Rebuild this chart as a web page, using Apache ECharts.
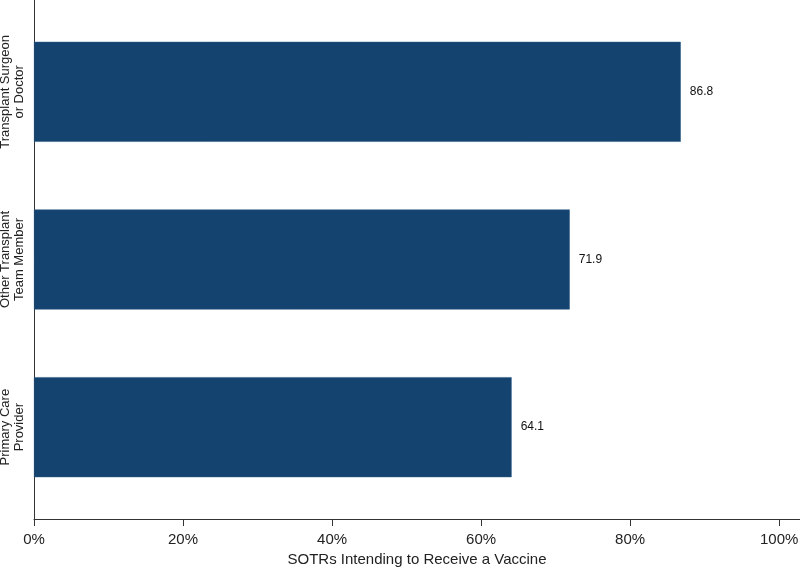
<!DOCTYPE html>
<html><head><meta charset="utf-8">
<script src="https://cdn.jsdelivr.net/npm/echarts@6/dist/echarts.min.js"></script>
<style>html,body{margin:0;padding:0;background:#fff}#c{width:800px;height:569px}</style>
</head><body><div id="c"></div>
<script>
const categories = ['Primary Care\nProvider', 'Other Transplant\nTeam Member', 'Transplant Surgeon\nor Doctor'];
const values = [64.1, 71.9, 86.8];
const tickValues = [0, 20, 40, 60, 80, 100];
const xTitle = 'SOTRs Intending to Receive a Vaccine';

const chart = echarts.init(document.getElementById('c'), null, {renderer: 'canvas'});
const FONT = 'Liberation Sans, Arial, Helvetica, sans-serif';
const XMAX = 102.8;
chart.setOption({
  animation: false,
  backgroundColor: '#fff',
  grid: [
    {left: 34, right: 0, top: 8, bottom: 58, outerBoundsMode: 'none', containLabel: false},
    {left: 34, right: 0, top: 0, bottom: 50, outerBoundsMode: 'none', containLabel: false}
  ],
  xAxis: [
    {gridIndex: 0, type: 'value', min: 0, max: XMAX, show: false, splitLine: {show: false}},
    {gridIndex: 1, type: 'value', min: 0, max: XMAX,
      axisLine: {show: true, lineStyle: {color: '#333', width: 1}},
      axisTick: {show: true, length: 7, customValues: tickValues, lineStyle: {color: '#333'}},
      axisLabel: {customValues: tickValues, formatter: v => v + '%', color: '#222', fontSize: 15, fontFamily: FONT, margin: 13},
      splitLine: {show: false},
      name: xTitle, nameLocation: 'middle', nameGap: 32,
      nameTextStyle: {color: '#222', fontSize: 15, fontFamily: FONT}
    }
  ],
  yAxis: [
    {gridIndex: 0, type: 'category', data: categories,
      axisLine: {show: false}, axisTick: {show: false},
      axisLabel: {rotate: 90, margin: 8, color: '#222', fontSize: 13, lineHeight: 14, fontFamily: FONT, align: 'center'}
    },
    {gridIndex: 1, type: 'value', min: 0, max: 1,
      axisLine: {show: true, lineStyle: {color: '#333', width: 1}},
      axisTick: {show: false}, axisLabel: {show: false}, splitLine: {show: false}
    }
  ],
  series: [{
    type: 'bar', xAxisIndex: 0, yAxisIndex: 0,
    data: values, barWidth: 100,
    itemStyle: {color: '#15436f', borderColor: '#2a5a85', borderWidth: 0.5},
    label: {show: true, position: 'right', distance: 9, formatter: p => p.value.toFixed(1), color: '#111', fontSize: 12, fontFamily: FONT}
  }]
});
</script></body></html>
